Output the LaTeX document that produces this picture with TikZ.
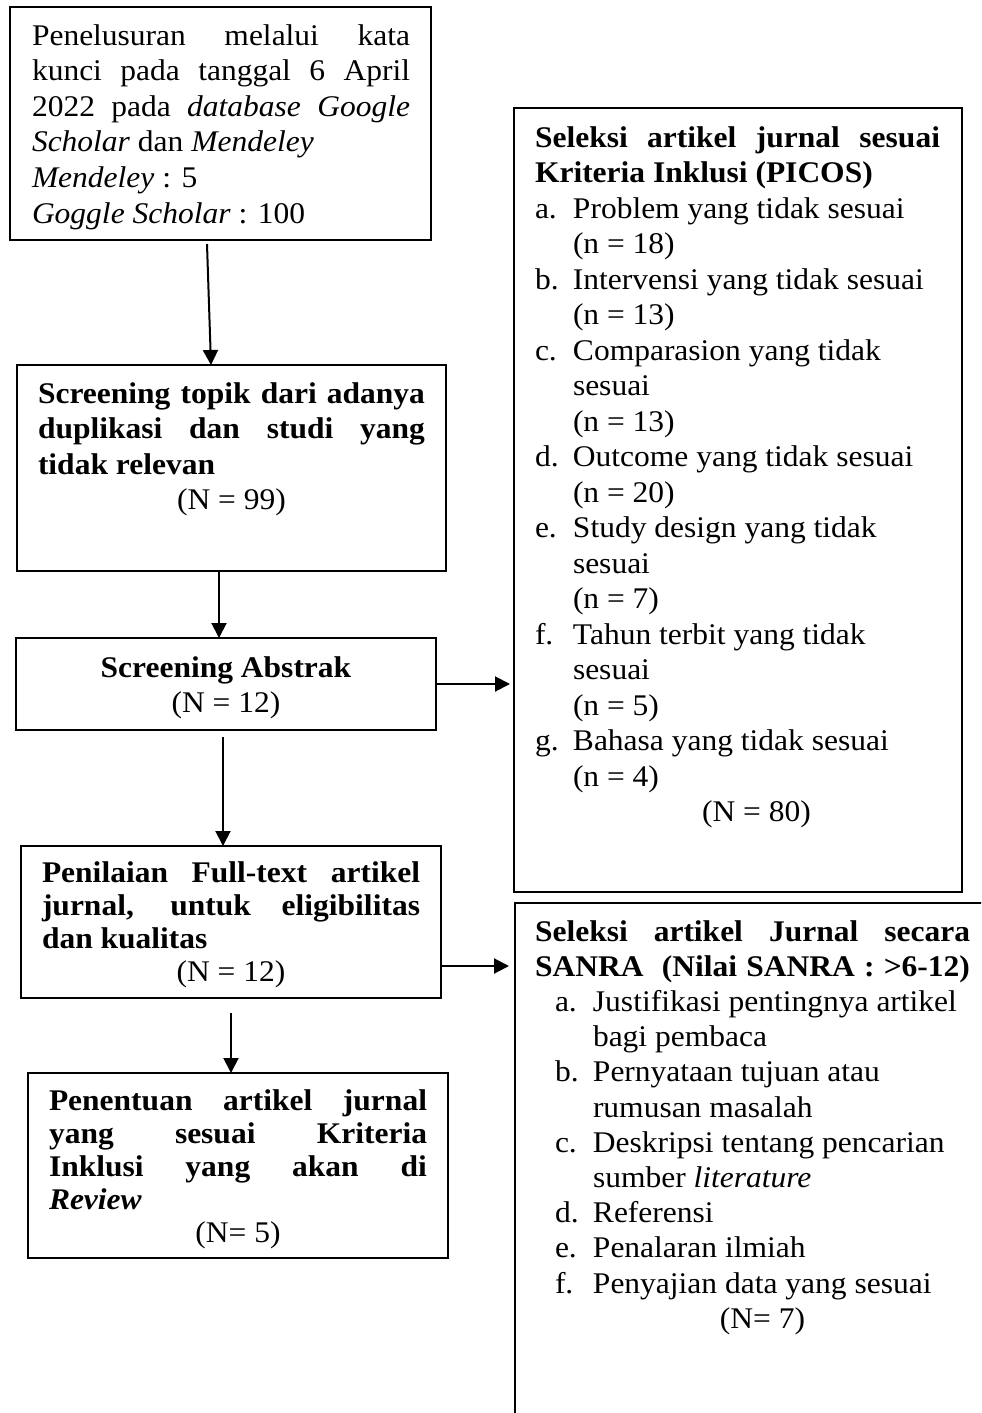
\documentclass[tikz,border=0pt]{standalone}
\usepackage{fontspec}
\setmainfont{Liberation Serif}[FakeStretch=1.05]
\usetikzlibrary{arrows.meta,fit}
\newdimen\px \px=0.4pt
\newcommand\tb[3]{\vtop{\hsize=#1\relax\fontsize{12}{#2}\selectfont#3}}
\newcommand\jl[1]{\hbox to\hsize{\spaceskip=0.25em plus 1fil\relax#1}}
\newcommand\pl[1]{\hbox{#1}}
\newcommand\cl[1]{\hbox to\hsize{\hfil#1\hfil}}
\newcommand\iA[2]{\hbox{\makebox[38\px][l]{#1}#2}}
\newcommand\iB[1]{\hbox{\hspace*{38\px}#1}}
\newcommand\iC[2]{\hbox{\hspace*{20\px}\makebox[38\px][l]{#1}#2}}
\newcommand\iD[1]{\hbox{\hspace*{58\px}#1}}
\tikzset{
  box/.style={draw, line width=0.85pt, inner sep=0pt, outer sep=0pt},
  txt/.style={inner sep=0pt, outer sep=0pt, anchor=base west},
  arr/.style={line width=0.8pt, -{Triangle[length=6pt,width=6pt]}}
}
\begin{document}
\begin{tikzpicture}[x=0.4pt, y=-0.4pt]
\useasboundingbox (0,0) rectangle (981,1413);
\clip (0,0) rectangle (981,1413);
% boxes
\node[box, fit={(10,7)(431,240)}] (b1) {};
\node[box, fit={(17,365)(446,571)}] (b2) {};
\node[box, fit={(16,638)(436,730)}] (b3) {};
\node[box, fit={(21,846)(441,998)}] (b4) {};
\node[box, fit={(28,1073)(448,1258)}] (b5) {};
\node[box, fit={(514,108)(962,892)}] (r1) {};
\node[box, fit={(515,903)(995,1440)}] (r2) {};
% texts
\node[txt] (t1) at (32,45) {\tb{378\px}{14.24pt}{%
\jl{Penelusuran melalui kata}
\jl{kunci pada tanggal 6 April}
\jl{2022 pada \textit{database Google}}
\pl{\textit{Scholar} dan \textit{Mendeley}}
\pl{\textit{Mendeley} : 5}
\pl{\textit{Goggle Scholar} : 100}}};
\node[txt] (t2) at (38,403) {\tb{387\px}{14.24pt}{%
\jl{\bfseries Screening topik dari adanya}
\jl{\bfseries duplikasi dan studi yang}
\pl{\bfseries tidak relevan}
\cl{(N = 99)}}};
\node[txt, anchor=base] (t3) at (226,677) {\tb{380\px}{14pt}{%
\cl{\bfseries Screening Abstrak}
\cl{(N = 12)}}};
\node[txt] (t4) at (42,882) {\tb{378\px}{13.3pt}{%
\jl{\bfseries Penilaian Full-text artikel}
\jl{\bfseries jurnal, untuk eligibilitas}
\pl{\bfseries dan kualitas}
\cl{(N = 12)}}};
\node[txt] (t5) at (49,1110) {\tb{378\px}{13.2pt}{%
\jl{\bfseries Penentuan artikel jurnal}
\jl{\bfseries yang sesuai Kriteria}
\jl{\bfseries Inklusi yang akan di}
\pl{\bfseries\itshape Review}
\cl{(N= 5)}}};
\node[txt] (tr1) at (535,147) {\tb{405\px}{14.2pt}{%
\jl{\bfseries Seleksi artikel jurnal sesuai}
\pl{\bfseries Kriteria Inklusi (PICOS)}
\iA{a.}{Problem yang tidak sesuai}
\iB{(n = 18)}
\iA{b.}{Intervensi yang tidak sesuai}
\iB{(n = 13)}
\iA{c.}{Comparasion yang tidak}
\iB{sesuai}
\iB{(n = 13)}
\iA{d.}{Outcome yang tidak sesuai}
\iB{(n = 20)}
\iA{e.}{Study design yang tidak}
\iB{sesuai}
\iB{(n = 7)}
\iA{f.}{Tahun terbit yang tidak}
\iB{sesuai}
\iB{(n = 5)}
\iA{g.}{Bahasa yang tidak sesuai}
\iB{(n = 4)}
\hbox to\hsize{\hspace*{38\px}\hfil(N = 80)\hfil}}};
\node[txt] (tr2) at (535,941) {\tb{435\px}{14.08pt}{%
\jl{\bfseries Seleksi artikel Jurnal secara}
\jl{\bfseries SANRA\ \ (Nilai SANRA : >6-12)}
\iC{a.}{Justifikasi pentingnya artikel}
\iD{bagi pembaca}
\iC{b.}{Pernyataan tujuan atau}
\iD{rumusan masalah}
\iC{c.}{Deskripsi tentang pencarian}
\iD{sumber \textit{literature}}
\iC{d.}{Referensi}
\iC{e.}{Penalaran ilmiah}
\iC{f.}{Penyajian data yang sesuai}
\hbox to\hsize{\hspace*{20\px}\hfil(N= 7)\hfil}}};
% connectors
\coordinate (a1s) at ([shift={(-13.5,4)}]b1.south);
\coordinate (a1e) at ([xshift=-20.5\px]b2.north);
\draw[arr] (a1s) -- (a1e);
\coordinate (a2s) at ([xshift=-12.5\px]b2.south);
\draw[arr] (a2s) -- (a2s |- b3.north);
\coordinate (a3s) at ([shift={(-3,7)}]b3.south);
\draw[arr] (a3s) -- (a3s |- b4.north);
\coordinate (a4s) at ([shift={(0,15)}]b4.south);
\draw[arr] (a4s) -- (a4s |- b5.north);
\coordinate (a5s) at (b3.east);
\draw[arr] (a5s) -- ([xshift=-4\px]a5s -| r1.west);
\coordinate (a6s) at ([shift={(0,44)}]b4.east);
\draw[arr] (a6s) -- ([xshift=-6\px]a6s -| r2.west);
\end{tikzpicture}
\end{document}
